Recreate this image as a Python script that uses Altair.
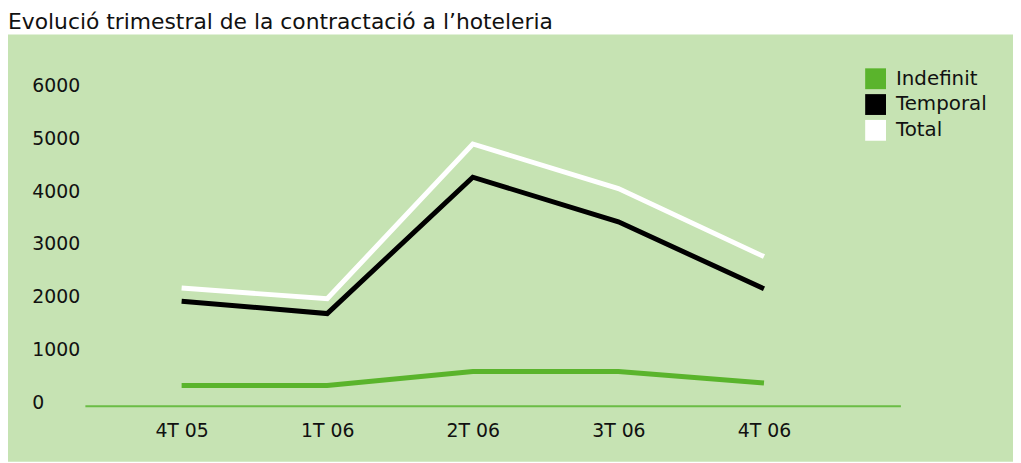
import altair as alt
import pandas as pd

quarters = ["4T 05", "1T 06", "2T 06", "3T 06", "4T 06"]
indefinit = [390, 390, 655, 655, 440]
temporal = [1990, 1755, 4340, 3495, 2225]
total = [2240, 2035, 4970, 4125, 2835]
series_names = ["Indefinit", "Temporal", "Total"]
series_colors = ["#5ab42c", "#000000", "#ffffff"]
y_ticks = [0, 1000, 2000, 3000, 4000, 5000, 6000]
title_text = "Evolució trimestral de la contractació a l’hoteleria"

rows = []
for name, vals in zip(series_names, [indefinit, temporal, total]):
    for i, (q, v) in enumerate(zip(quarters, vals)):
        rows.append({"Trimestre": q, "idx": i, "Serie": name, "Valor": v})
df = pd.DataFrame(rows)

FONT = "DejaVu Sans"
BG = "#c6e3b3"
W, H = 822, 319

x_enc = alt.X("Trimestre:N", sort=quarters,
              scale=alt.Scale(type="point", domain=quarters, range=[97, 684], padding=0),
              axis=alt.Axis(title=None, labelAngle=0, ticks=False, domain=False, grid=False,
                            labelFontSize=19, labelFont=FONT, labelColor="#111111",
                            labelPadding=16, zindex=1))
y_enc = alt.Y("Valor:Q", scale=alt.Scale(domain=[0, 6000], nice=False, zero=True),
              axis=alt.Axis(title=None, values=y_ticks, format="d", ticks=False,
                            domain=False, grid=False, labelFontSize=19, labelFont=FONT,
                            labelColor="#111111", labelAlign="left", labelPadding=54,
                            labelOffset=-4, zindex=1))
color_scale = alt.Scale(domain=series_names, range=series_colors)

one = alt.Data(values=[{"k": 1}])

bg = alt.Chart(one).mark_rect(color=BG).encode(
    x=alt.value(-78), x2=alt.value(W + 113), y=alt.value(-55.5), y2=alt.value(H + 56))

title = alt.Chart(one).mark_text(
    text=title_text, align="left", baseline="alphabetic", font=FONT,
    fontSize=22, color="#111111").encode(x=alt.value(-78), y=alt.value(-61.5))

axis_line = alt.Chart(one).mark_rule(color="#6abd45", strokeWidth=2).encode(
    x=alt.value(0), x2=alt.value(W), y=alt.value(H))

lines = alt.Chart(df).mark_line(strokeWidth=5, strokeJoin="miter").encode(
    x=x_enc, y=y_enc,
    color=alt.Color("Serie:N", scale=color_scale, legend=None),
    order=alt.Order("idx:Q"))

legend_layer = alt.Chart(df).transform_filter("false").mark_square(filled=True, opacity=1).encode(
    x=alt.X("Trimestre:N", sort=quarters), y=alt.Y("Valor:Q"),
    color=alt.Color("Serie:N", scale=color_scale,
                    legend=alt.Legend(title=None, orient="none", legendX=786, legendY=-21.5,
                                      symbolType="square", symbolSize=441,
                                      symbolStrokeWidth=0, symbolOpacity=1,
                                      labelFontSize=20, labelFont=FONT,
                                      labelColor="#111111", labelOffset=10,
                                      rowPadding=5, padding=0)))

chart = alt.layer(bg, title, axis_line, lines, legend_layer).resolve_legend(
    color="independent"
).properties(
    width=W, height=H,
    autosize=alt.AutoSizeParams(type="none"),
    padding={"left": 78, "top": 80.5, "right": 113, "bottom": 55.5},
    background="white",
).configure_view(stroke=None)

chart.save("out.html", embed_options={"renderer": "svg", "actions": False})
